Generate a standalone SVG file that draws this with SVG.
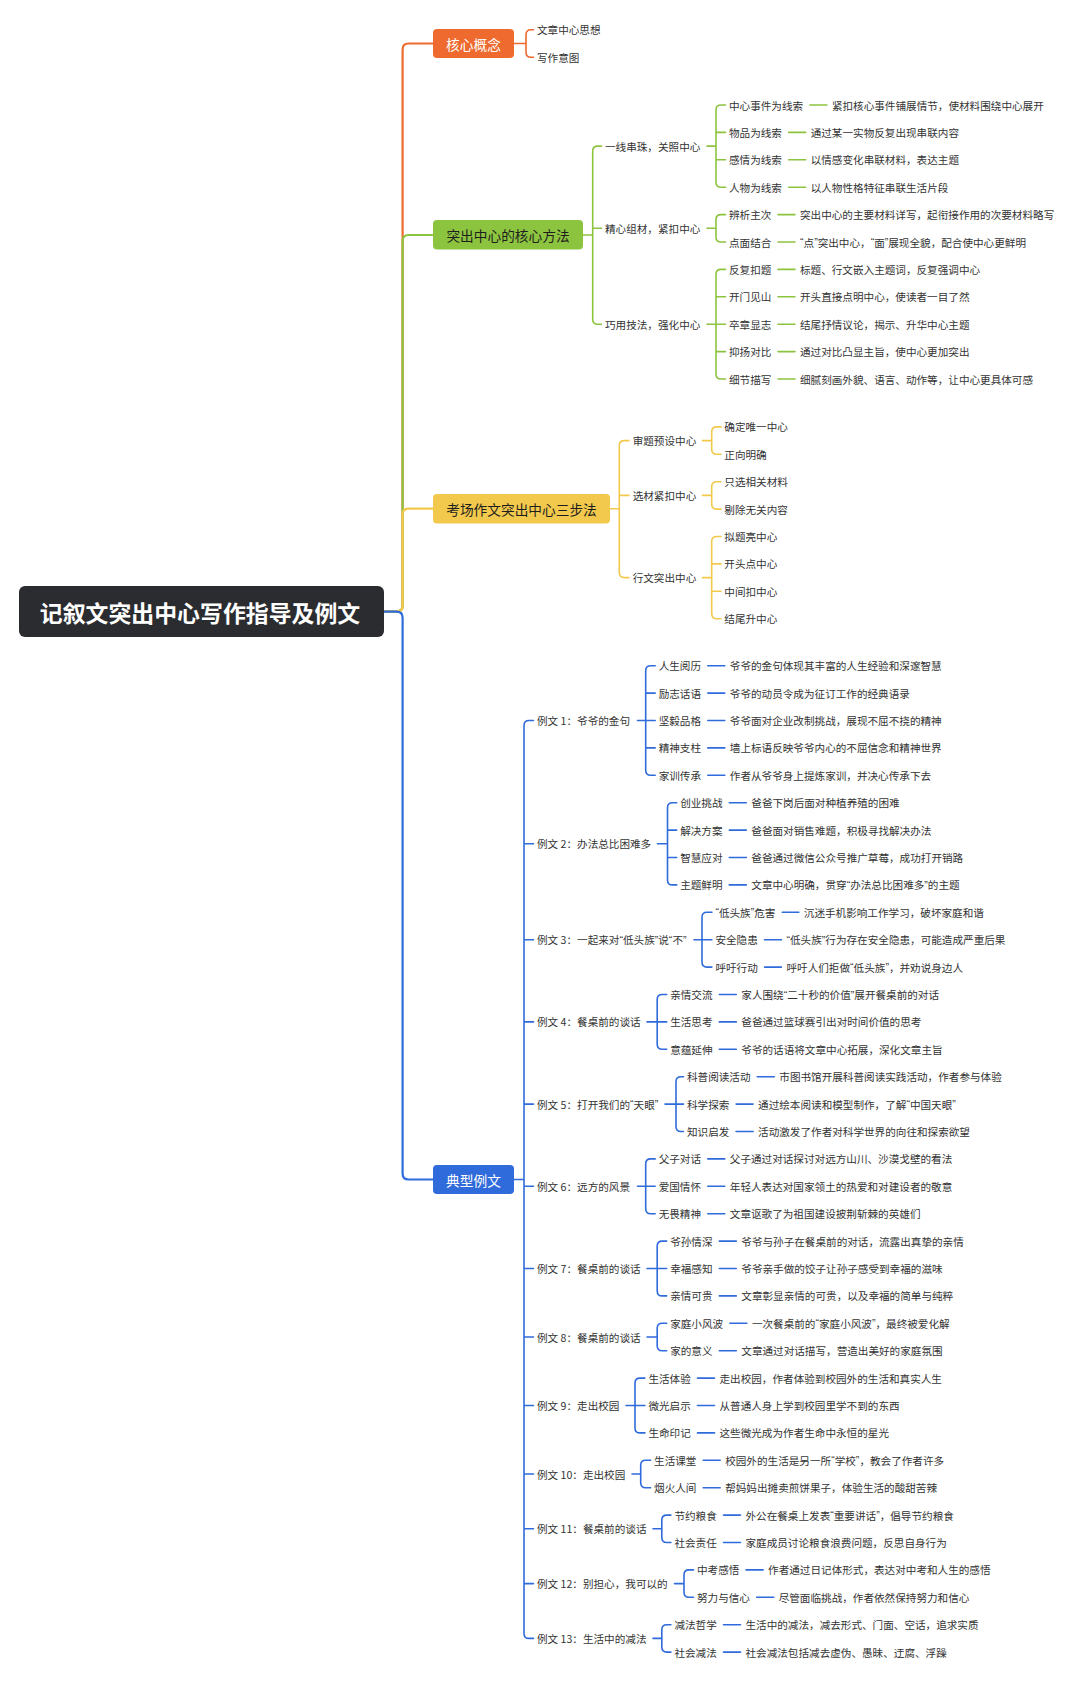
<svg xmlns="http://www.w3.org/2000/svg" width="1080" height="1683" viewBox="0 0 1080 1683">
<style>
text{font-family:"Noto Sans CJK SC","Noto Sans",sans-serif;dominant-baseline:central}
.root{font-size:22.9px;font-weight:bold;fill:#fff}
.br{font-size:13.7px}
.w{fill:#fff}
.k{fill:#1e1e1e}
.t{font-size:10.6px;fill:#333}
.q{font-family:"Liberation Sans",Arial,sans-serif}
.c{fill:none;stroke-linecap:round;stroke-linejoin:round}
.tr{stroke-width:2.2}
.s{stroke-width:1.6}
.o{stroke:#EE6A2E}
.g{stroke:#8DC43F}
.y{stroke:#F2C94C}
.b{stroke:#2F6BDB}
</style>
<rect width="1080" height="1683" fill="#fff"/>
<g id="connectors">
<path class="c tr o" d="M384,611.6 H396.6 Q402.6,611.6 402.6,605.6 V49.5 Q402.6,43.5 408.6,43.5 H433"/>
<path class="c tr g" d="M384,611.6 H396.6 Q402.6,611.6 402.6,605.6 V241 Q402.6,235 408.6,235 H433"/>
<path class="c tr y" d="M384,611.6 H396.6 Q402.6,611.6 402.6,605.6 V514.7 Q402.6,508.7 408.6,508.7 H433"/>
<path class="c tr b" d="M384,611.6 H396.6 Q402.6,611.6 402.6,617.6 V1173.5 Q402.6,1179.5 408.6,1179.5 H433"/>
<path class="c s o" d="M533.5,29.8 H531 Q526,29.8 526,34.8 V52.2 Q526,57.2 531,57.2 H533.5 M514,43.5 H526"/>
<path class="c s g" d="M601.5,146.1 H597.7 Q592.7,146.1 592.7,151.1 V319.2 Q592.7,324.2 597.7,324.2 H601.5 M592.7,228.3 H601.5 M583,235 H592.7"/>
<path class="c s g" d="M725.5,105 H721 Q716,105 716,110 V182.2 Q716,187.2 721,187.2 H725.5 M716,132.4 H725.5 M716,159.8 H725.5 M707,146.1 H716"/>
<path class="c s g" d="M725.5,214.6 H721 Q716,214.6 716,219.6 V237 Q716,242 721,242 H725.5 M707,228.3 H716"/>
<path class="c s g" d="M725.5,269.4 H721 Q716,269.4 716,274.4 V374 Q716,379 721,379 H725.5 M716,296.8 H725.5 M716,351.6 H725.5 M707,324.2 H725.5"/>
<path class="c s g" d="M809.9,105 H826.9 M788.7,132.4 H805.7 M788.7,159.8 H805.7 M788.7,187.2 H805.7 M778,214.6 H795 M778,242 H795 M778,269.4 H795 M778,296.8 H795 M778,324.2 H795 M778,351.6 H795 M778,379 H795"/>
<path class="c s y" d="M629,440.6 H624.3 Q619.3,440.6 619.3,445.6 V572.6 Q619.3,577.6 624.3,577.6 H629 M619.3,495.4 H629 M610,508.7 H619.3"/>
<path class="c s y" d="M721,426.9 H716.7 Q711.7,426.9 711.7,431.9 V449.3 Q711.7,454.3 716.7,454.3 H721 M702.5,440.6 H711.7"/>
<path class="c s y" d="M721,481.7 H716.7 Q711.7,481.7 711.7,486.7 V504.1 Q711.7,509.1 716.7,509.1 H721 M702.5,495.4 H711.7"/>
<path class="c s y" d="M721,536.5 H716.7 Q711.7,536.5 711.7,541.5 V613.7 Q711.7,618.7 716.7,618.7 H721 M711.7,563.9 H721 M711.7,591.3 H721 M702.5,577.6 H711.7"/>
<path class="c s b" d="M533.5,720.5 H529 Q524,720.5 524,725.5 V1633.4 Q524,1638.4 529,1638.4 H533.5 M524,843.8 H533.5 M524,939.7 H533.5 M524,1021.9 H533.5 M524,1104.1 H533.5 M524,1186.3 H533.5 M524,1268.5 H533.5 M524,1337 H533.5 M524,1405.5 H533.5 M524,1474 H533.5 M524,1528.8 H533.5 M524,1583.6 H533.5 M514,1179.5 H524"/>
<path class="c s b" d="M655.2,665.7 H650.7 Q645.7,665.7 645.7,670.7 V770.3 Q645.7,775.3 650.7,775.3 H655.2 M645.7,693.1 H655.2 M645.7,747.9 H655.2 M637.5,720.5 H655.2"/>
<path class="c s b" d="M676.7,802.7 H672.5 Q667.5,802.7 667.5,807.7 V879.9 Q667.5,884.9 672.5,884.9 H676.7 M667.5,830.1 H676.7 M667.5,857.5 H676.7 M657.5,843.8 H667.5"/>
<path class="c s b" d="M711.9,912.3 H707 Q702,912.3 702,917.3 V962.1 Q702,967.1 707,967.1 H711.9 M694,939.7 H711.9"/>
<path class="c s b" d="M666.7,994.5 H662.2 Q657.2,994.5 657.2,999.5 V1044.3 Q657.2,1049.3 662.2,1049.3 H666.7 M647,1021.9 H666.7"/>
<path class="c s b" d="M683.5,1076.7 H681 Q676,1076.7 676,1081.7 V1126.5 Q676,1131.5 681,1131.5 H683.5 M665,1104.1 H683.5"/>
<path class="c s b" d="M655.2,1158.9 H650.7 Q645.7,1158.9 645.7,1163.9 V1208.7 Q645.7,1213.7 650.7,1213.7 H655.2 M637.5,1186.3 H655.2"/>
<path class="c s b" d="M666.7,1241.1 H662.2 Q657.2,1241.1 657.2,1246.1 V1290.9 Q657.2,1295.9 662.2,1295.9 H666.7 M647,1268.5 H666.7"/>
<path class="c s b" d="M666.7,1323.3 H662.2 Q657.2,1323.3 657.2,1328.3 V1345.7 Q657.2,1350.7 662.2,1350.7 H666.7 M647,1337 H657.2"/>
<path class="c s b" d="M644.9,1378.1 H640 Q635,1378.1 635,1383.1 V1427.9 Q635,1432.9 640,1432.9 H644.9 M626,1405.5 H644.9"/>
<path class="c s b" d="M650.6,1460.3 H645.7 Q640.7,1460.3 640.7,1465.3 V1482.7 Q640.7,1487.7 645.7,1487.7 H650.6 M632,1474 H640.7"/>
<path class="c s b" d="M670.9,1515.1 H666.8 Q661.8,1515.1 661.8,1520.1 V1537.5 Q661.8,1542.5 666.8,1542.5 H670.9 M653,1528.8 H661.8"/>
<path class="c s b" d="M693.5,1569.9 H689 Q684,1569.9 684,1574.9 V1592.3 Q684,1597.3 689,1597.3 H693.5 M674.5,1583.6 H684"/>
<path class="c s b" d="M670.9,1624.7 H666.8 Q661.8,1624.7 661.8,1629.7 V1647.1 Q661.8,1652.1 666.8,1652.1 H670.9 M653,1638.4 H661.8"/>
<path class="c s b" d="M707.8,665.7 H724.8 M707.8,693.1 H724.8 M707.8,720.5 H724.8 M707.8,747.9 H724.8 M707.8,775.3 H724.8 M729.3,802.7 H746.3 M729.3,830.1 H746.3 M729.3,857.5 H746.3 M729.3,884.9 H746.3 M782.3,912.3 H798.8 M764.5,939.7 H781.5 M764.5,967.1 H781.5 M719.3,994.5 H736.3 M719.3,1021.9 H736.3 M719.3,1049.3 H736.3 M757.3,1076.7 H774.3 M736.1,1104.1 H753.1 M736.1,1131.5 H753.1 M707.8,1158.9 H724.8 M707.8,1186.3 H724.8 M707.8,1213.7 H724.8 M719.3,1241.1 H736.3 M719.3,1268.5 H736.3 M719.3,1295.9 H736.3 M729.9,1323.3 H746.9 M719.3,1350.7 H736.3 M697.5,1378.1 H714.5 M697.5,1405.5 H714.5 M697.5,1432.9 H714.5 M703.2,1460.3 H720.2 M703.2,1487.7 H720.2 M723.5,1515.1 H740.5 M723.5,1542.5 H740.5 M746.1,1569.9 H763.1 M756.7,1597.3 H773.7 M723.5,1624.7 H740.5 M723.5,1652.1 H740.5"/>
</g>
<g id="root"><rect x="19" y="586" width="365" height="51" rx="6" fill="#2B2C2F"/><text class="root" x="200" y="611.6" text-anchor="middle">记叙文突出中心写作指导及例文</text></g>
<g id="b1"><rect x="433" y="29" width="81" height="29" rx="4" fill="#EE6A2E"/><text class="br w" x="473.5" y="43.5" text-anchor="middle">核心概念</text></g>
<g id="b1-1"><text class="t" x="537" y="29.8">文章中心思想</text></g>
<g id="b1-2"><text class="t" x="537" y="57.2">写作意图</text></g>
<g id="b2"><rect x="433" y="220" width="150" height="29.5" rx="4" fill="#8DC43F"/><text class="br k" x="508" y="235" text-anchor="middle">突出中心的核心方法</text></g>
<g id="b2-1"><text class="t" x="605" y="146.1">一线串珠，关照中心</text></g>
<g id="b2-1-1"><text class="t" x="729" y="105">中心事件为线索</text><text class="t" x="831.9" y="105">紧扣核心事件铺展情节，使材料围绕中心展开</text></g>
<g id="b2-1-2"><text class="t" x="729" y="132.4">物品为线索</text><text class="t" x="810.7" y="132.4">通过某一实物反复出现串联内容</text></g>
<g id="b2-1-3"><text class="t" x="729" y="159.8">感情为线索</text><text class="t" x="810.7" y="159.8">以情感变化串联材料，表达主题</text></g>
<g id="b2-1-4"><text class="t" x="729" y="187.2">人物为线索</text><text class="t" x="810.7" y="187.2">以人物性格特征串联生活片段</text></g>
<g id="b2-2"><text class="t" x="605" y="228.3">精心组材，紧扣中心</text></g>
<g id="b2-2-1"><text class="t" x="729" y="214.6">辨析主次</text><text class="t" x="800" y="214.6">突出中心的主要材料详写，起衔接作用的次要材料略写</text></g>
<g id="b2-2-2"><text class="t" x="729" y="242">点面结合</text><text class="t" x="800" y="242"><tspan class="q">“</tspan>点<tspan class="q">”</tspan>突出中心，<tspan class="q">“</tspan>面<tspan class="q">”</tspan>展现全貌，配合使中心更鲜明</text></g>
<g id="b2-3"><text class="t" x="605" y="324.2">巧用技法，强化中心</text></g>
<g id="b2-3-1"><text class="t" x="729" y="269.4">反复扣题</text><text class="t" x="800" y="269.4">标题、行文嵌入主题词，反复强调中心</text></g>
<g id="b2-3-2"><text class="t" x="729" y="296.8">开门见山</text><text class="t" x="800" y="296.8">开头直接点明中心，使读者一目了然</text></g>
<g id="b2-3-3"><text class="t" x="729" y="324.2">卒章显志</text><text class="t" x="800" y="324.2">结尾抒情议论，揭示、升华中心主题</text></g>
<g id="b2-3-4"><text class="t" x="729" y="351.6">抑扬对比</text><text class="t" x="800" y="351.6">通过对比凸显主旨，使中心更加突出</text></g>
<g id="b2-3-5"><text class="t" x="729" y="379">细节描写</text><text class="t" x="800" y="379">细腻刻画外貌、语言、动作等，让中心更具体可感</text></g>
<g id="b3"><rect x="433" y="494" width="177" height="29.5" rx="4" fill="#F2C94C"/><text class="br k" x="521.5" y="508.7" text-anchor="middle">考场作文突出中心三步法</text></g>
<g id="b3-1"><text class="t" x="632.7" y="440.6">审题预设中心</text></g>
<g id="b3-1-1"><text class="t" x="724.3" y="426.9">确定唯一中心</text></g>
<g id="b3-1-2"><text class="t" x="724.3" y="454.3">正向明确</text></g>
<g id="b3-2"><text class="t" x="632.7" y="495.4">选材紧扣中心</text></g>
<g id="b3-2-1"><text class="t" x="724.3" y="481.7">只选相关材料</text></g>
<g id="b3-2-2"><text class="t" x="724.3" y="509.1">剔除无关内容</text></g>
<g id="b3-3"><text class="t" x="632.7" y="577.6">行文突出中心</text></g>
<g id="b3-3-1"><text class="t" x="724.3" y="536.5">拟题亮中心</text></g>
<g id="b3-3-2"><text class="t" x="724.3" y="563.9">开头点中心</text></g>
<g id="b3-3-3"><text class="t" x="724.3" y="591.3">中间扣中心</text></g>
<g id="b3-3-4"><text class="t" x="724.3" y="618.7">结尾升中心</text></g>
<g id="b4"><rect x="433" y="1165" width="81" height="29" rx="4" fill="#2F6BDB"/><text class="br w" x="473.5" y="1179.5" text-anchor="middle">典型例文</text></g>
<g id="e1"><text class="t" x="537" y="720.5">例文 1：爷爷的金句</text></g>
<g id="e1-1"><text class="t" x="658.7" y="665.7">人生阅历</text><text class="t" x="729.8" y="665.7">爷爷的金句体现其丰富的人生经验和深邃智慧</text></g>
<g id="e1-2"><text class="t" x="658.7" y="693.1">励志话语</text><text class="t" x="729.8" y="693.1">爷爷的动员令成为征订工作的经典语录</text></g>
<g id="e1-3"><text class="t" x="658.7" y="720.5">坚毅品格</text><text class="t" x="729.8" y="720.5">爷爷面对企业改制挑战，展现不屈不挠的精神</text></g>
<g id="e1-4"><text class="t" x="658.7" y="747.9">精神支柱</text><text class="t" x="729.8" y="747.9">墙上标语反映爷爷内心的不屈信念和精神世界</text></g>
<g id="e1-5"><text class="t" x="658.7" y="775.3">家训传承</text><text class="t" x="729.8" y="775.3">作者从爷爷身上提炼家训，并决心传承下去</text></g>
<g id="e2"><text class="t" x="537" y="843.8">例文 2：办法总比困难多</text></g>
<g id="e2-1"><text class="t" x="680.2" y="802.7">创业挑战</text><text class="t" x="751.3" y="802.7">爸爸下岗后面对种植养殖的困难</text></g>
<g id="e2-2"><text class="t" x="680.2" y="830.1">解决方案</text><text class="t" x="751.3" y="830.1">爸爸面对销售难题，积极寻找解决办法</text></g>
<g id="e2-3"><text class="t" x="680.2" y="857.5">智慧应对</text><text class="t" x="751.3" y="857.5">爸爸通过微信公众号推广草莓，成功打开销路</text></g>
<g id="e2-4"><text class="t" x="680.2" y="884.9">主题鲜明</text><text class="t" x="751.3" y="884.9">文章中心明确，贯穿<tspan class="q">“</tspan>办法总比困难多<tspan class="q">”</tspan>的主题</text></g>
<g id="e3"><text class="t" x="537" y="939.7">例文 3：一起来对<tspan class="q">“</tspan>低头族<tspan class="q">”</tspan>说<tspan class="q">“</tspan>不<tspan class="q">”</tspan></text></g>
<g id="e3-1"><text class="t" x="715.4" y="912.3"><tspan class="q">“</tspan>低头族<tspan class="q">”</tspan>危害</text><text class="t" x="803.8" y="912.3">沉迷手机影响工作学习，破坏家庭和谐</text></g>
<g id="e3-2"><text class="t" x="715.4" y="939.7">安全隐患</text><text class="t" x="786.5" y="939.7"><tspan class="q">“</tspan>低头族<tspan class="q">”</tspan>行为存在安全隐患，可能造成严重后果</text></g>
<g id="e3-3"><text class="t" x="715.4" y="967.1">呼吁行动</text><text class="t" x="786.5" y="967.1">呼吁人们拒做<tspan class="q">“</tspan>低头族<tspan class="q">”</tspan>，并劝说身边人</text></g>
<g id="e4"><text class="t" x="537" y="1021.9">例文 4：餐桌前的谈话</text></g>
<g id="e4-1"><text class="t" x="670.2" y="994.5">亲情交流</text><text class="t" x="741.3" y="994.5">家人围绕<tspan class="q">“</tspan>二十秒的价值<tspan class="q">”</tspan>展开餐桌前的对话</text></g>
<g id="e4-2"><text class="t" x="670.2" y="1021.9">生活思考</text><text class="t" x="741.3" y="1021.9">爸爸通过篮球赛引出对时间价值的思考</text></g>
<g id="e4-3"><text class="t" x="670.2" y="1049.3">意蕴延伸</text><text class="t" x="741.3" y="1049.3">爷爷的话语将文章中心拓展，深化文章主旨</text></g>
<g id="e5"><text class="t" x="537" y="1104.1">例文 5：打开我们的<tspan class="q">“</tspan>天眼<tspan class="q">”</tspan></text></g>
<g id="e5-1"><text class="t" x="687" y="1076.7">科普阅读活动</text><text class="t" x="779.3" y="1076.7">市图书馆开展科普阅读实践活动，作者参与体验</text></g>
<g id="e5-2"><text class="t" x="687" y="1104.1">科学探索</text><text class="t" x="758.1" y="1104.1">通过绘本阅读和模型制作，了解<tspan class="q">“</tspan>中国天眼<tspan class="q">”</tspan></text></g>
<g id="e5-3"><text class="t" x="687" y="1131.5">知识启发</text><text class="t" x="758.1" y="1131.5">活动激发了作者对科学世界的向往和探索欲望</text></g>
<g id="e6"><text class="t" x="537" y="1186.3">例文 6：远方的风景</text></g>
<g id="e6-1"><text class="t" x="658.7" y="1158.9">父子对话</text><text class="t" x="729.8" y="1158.9">父子通过对话探讨对远方山川、沙漠戈壁的看法</text></g>
<g id="e6-2"><text class="t" x="658.7" y="1186.3">爱国情怀</text><text class="t" x="729.8" y="1186.3">年轻人表达对国家领土的热爱和对建设者的敬意</text></g>
<g id="e6-3"><text class="t" x="658.7" y="1213.7">无畏精神</text><text class="t" x="729.8" y="1213.7">文章讴歌了为祖国建设披荆斩棘的英雄们</text></g>
<g id="e7"><text class="t" x="537" y="1268.5">例文 7：餐桌前的谈话</text></g>
<g id="e7-1"><text class="t" x="670.2" y="1241.1">爷孙情深</text><text class="t" x="741.3" y="1241.1">爷爷与孙子在餐桌前的对话，流露出真挚的亲情</text></g>
<g id="e7-2"><text class="t" x="670.2" y="1268.5">幸福感知</text><text class="t" x="741.3" y="1268.5">爷爷亲手做的饺子让孙子感受到幸福的滋味</text></g>
<g id="e7-3"><text class="t" x="670.2" y="1295.9">亲情可贵</text><text class="t" x="741.3" y="1295.9">文章彰显亲情的可贵，以及幸福的简单与纯粹</text></g>
<g id="e8"><text class="t" x="537" y="1337">例文 8：餐桌前的谈话</text></g>
<g id="e8-1"><text class="t" x="670.2" y="1323.3">家庭小风波</text><text class="t" x="751.9" y="1323.3">一次餐桌前的<tspan class="q">“</tspan>家庭小风波<tspan class="q">”</tspan>，最终被爱化解</text></g>
<g id="e8-2"><text class="t" x="670.2" y="1350.7">家的意义</text><text class="t" x="741.3" y="1350.7">文章通过对话描写，营造出美好的家庭氛围</text></g>
<g id="e9"><text class="t" x="537" y="1405.5">例文 9：走出校园</text></g>
<g id="e9-1"><text class="t" x="648.4" y="1378.1">生活体验</text><text class="t" x="719.5" y="1378.1">走出校园，作者体验到校园外的生活和真实人生</text></g>
<g id="e9-2"><text class="t" x="648.4" y="1405.5">微光启示</text><text class="t" x="719.5" y="1405.5">从普通人身上学到校园里学不到的东西</text></g>
<g id="e9-3"><text class="t" x="648.4" y="1432.9">生命印记</text><text class="t" x="719.5" y="1432.9">这些微光成为作者生命中永恒的星光</text></g>
<g id="e10"><text class="t" x="537" y="1474">例文 10：走出校园</text></g>
<g id="e10-1"><text class="t" x="654.1" y="1460.3">生活课堂</text><text class="t" x="725.2" y="1460.3">校园外的生活是另一所<tspan class="q">“</tspan>学校<tspan class="q">”</tspan>，教会了作者许多</text></g>
<g id="e10-2"><text class="t" x="654.1" y="1487.7">烟火人间</text><text class="t" x="725.2" y="1487.7">帮妈妈出摊卖煎饼果子，体验生活的酸甜苦辣</text></g>
<g id="e11"><text class="t" x="537" y="1528.8">例文 11：餐桌前的谈话</text></g>
<g id="e11-1"><text class="t" x="674.4" y="1515.1">节约粮食</text><text class="t" x="745.5" y="1515.1">外公在餐桌上发表<tspan class="q">“</tspan>重要讲话<tspan class="q">”</tspan>，倡导节约粮食</text></g>
<g id="e11-2"><text class="t" x="674.4" y="1542.5">社会责任</text><text class="t" x="745.5" y="1542.5">家庭成员讨论粮食浪费问题，反思自身行为</text></g>
<g id="e12"><text class="t" x="537" y="1583.6">例文 12：别担心，我可以的</text></g>
<g id="e12-1"><text class="t" x="697" y="1569.9">中考感悟</text><text class="t" x="768.1" y="1569.9">作者通过日记体形式，表达对中考和人生的感悟</text></g>
<g id="e12-2"><text class="t" x="697" y="1597.3">努力与信心</text><text class="t" x="778.7" y="1597.3">尽管面临挑战，作者依然保持努力和信心</text></g>
<g id="e13"><text class="t" x="537" y="1638.4">例文 13：生活中的减法</text></g>
<g id="e13-1"><text class="t" x="674.4" y="1624.7">减法哲学</text><text class="t" x="745.5" y="1624.7">生活中的减法，减去形式、门面、空话，追求实质</text></g>
<g id="e13-2"><text class="t" x="674.4" y="1652.1">社会减法</text><text class="t" x="745.5" y="1652.1">社会减法包括减去虚伪、愚昧、迂腐、浮躁</text></g>
</svg>
